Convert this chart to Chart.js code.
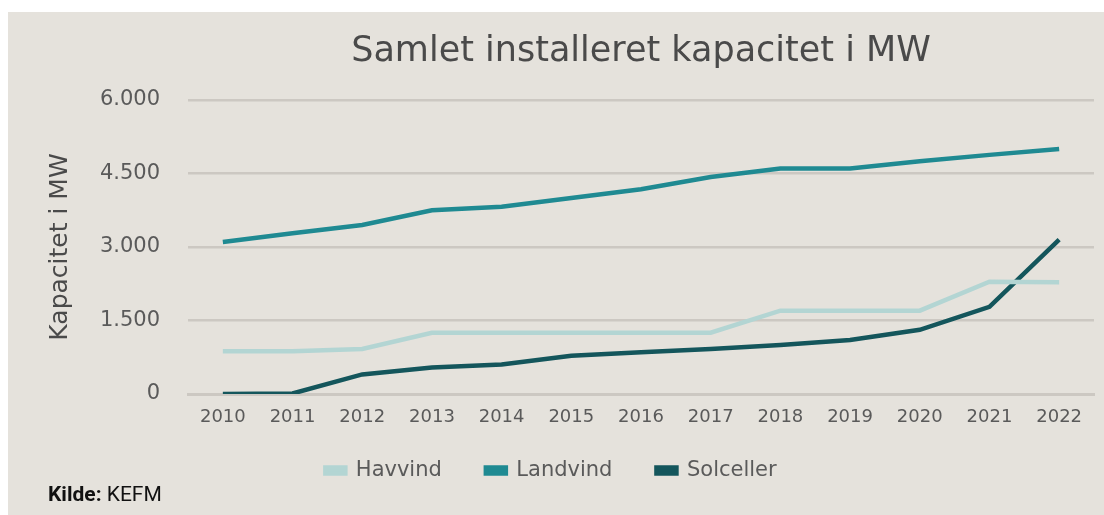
<!DOCTYPE html>
<html>
<head>
<meta charset="utf-8">
<script src="https://cdn.jsdelivr.net/npm/chart.js@4"></script>
<style>
  html, body { margin: 0; padding: 0; background: #fff; }
  #wrap { position: absolute; left: 8px; top: 12px; width: 1096px; height: 503px; background: #e5e2dc; }
  #kilde { position: absolute; left: 40px; top: 470px; font-family: Roboto, sans-serif; font-size: 21px; color: #111; }
</style>
</head>
<body>
<div id="wrap">
  <canvas id="chart" width="1096" height="503"></canvas>
  <div id="kilde"><b>Kilde:</b> KEFM</div>
</div>
<script>
const years = ['2010', '2011', '2012', '2013', '2014', '2015', '2016', '2017', '2018', '2019', '2020', '2021', '2022'];
const havvind = [870, 870, 920, 1250, 1250, 1250, 1250, 1250, 1700, 1700, 1700, 2290, 2280];
const landvind = [3100, 3280, 3450, 3750, 3820, 4000, 4180, 4430, 4600, 4600, 4750, 4880, 5000];
const solceller = [0, 10, 400, 540, 600, 780, 850, 920, 1000, 1100, 1310, 1780, 3150];

// tusindtalsseparator med punktum
function fmt(v) {
    return String(v).replace(/\B(?=(\d{3})+(?!\d))/g, '.');
}

const textColor = '#5a5a5a';
const gridColor = '#ccc8c2';

// flyt legenden lidt op, tættere paa x-aksen
const legendShift = {
    id: 'legendShift',
    afterLayout(chart) {
        if (chart.legend) {
            chart.legend.top -= 10;
            chart.legend.bottom -= 10;
        }
    }
};

new Chart(document.getElementById('chart'), {
    type: 'line',
    data: {
        labels: years,
        datasets: [
            { label: 'Havvind', data: havvind, borderColor: '#b3d5d3', backgroundColor: '#b3d5d3' },
            { label: 'Landvind', data: landvind, borderColor: '#1f8a92', backgroundColor: '#1f8a92' },
            { label: 'Solceller', data: solceller, borderColor: '#14565c', backgroundColor: '#14565c' }
        ]
    },
    options: {
        responsive: false,
        animation: false,
        elements: {
            line: { borderWidth: 4.5, tension: 0 },
            point: { radius: 0 }
        },
        layout: { padding: { left: 0, right: 10, top: 0, bottom: 19 } },
        scales: {
            x: {
                offset: true,
                grid: { display: false },
                border: { color: gridColor, width: 3 },
                ticks: { color: textColor, font: { family: 'DejaVu Sans', size: 18 }, padding: 5, maxRotation: 0 },
                afterFit: s => { s.height = 32; }
            },
            y: {
                min: 0,
                max: 6000,
                ticks: {
                    stepSize: 1500,
                    color: textColor,
                    font: { family: 'DejaVu Sans', size: 21 },
                    padding: 28,
                    callback: v => fmt(v)
                },
                grid: { color: gridColor, lineWidth: 2.5, drawTicks: false },
                border: { display: false },
                title: {
                    display: true,
                    text: 'Kapacitet i MW',
                    color: '#4a4a4a',
                    font: { family: 'DejaVu Sans', size: 25 },
                    padding: { top: 37, bottom: 0 }
                },
                afterFit: s => { s.width = 180; }
            }
        },
        plugins: {
            title: {
                display: true,
                text: 'Samlet installeret kapacitet i MW',
                fullSize: false,
                color: '#4a4a4a',
                font: { family: 'DejaVu Sans', size: 35, weight: 'normal' },
                padding: { top: 19, bottom: 27 }
            },
            legend: {
                position: 'bottom',
                maxHeight: 70,
                labels: {
                    boxWidth: 20,
                    boxHeight: 6,
                    padding: 44,
                    color: textColor,
                    font: { family: 'DejaVu Sans', size: 21 }
                }
            },
            tooltip: { enabled: false }
        }
    },
    plugins: [legendShift]
});
</script>
</body>
</html>
